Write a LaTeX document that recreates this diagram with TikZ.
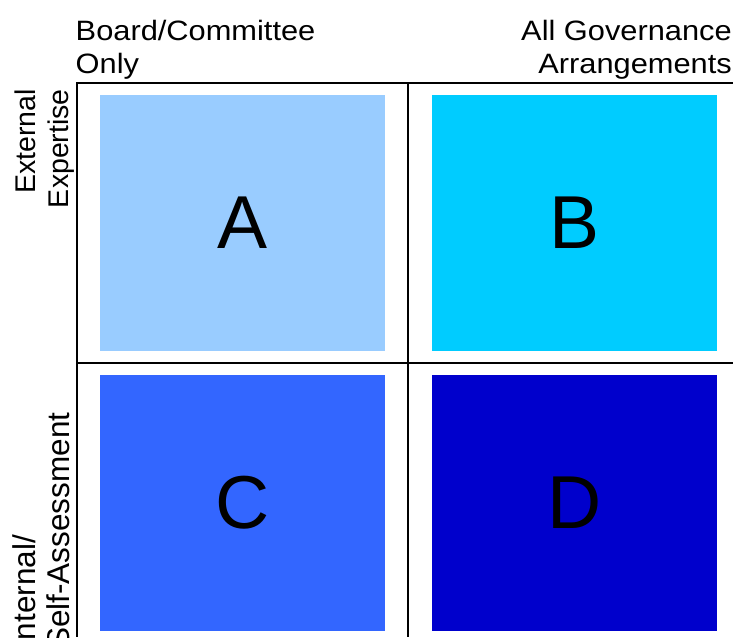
\documentclass[tikz,border=0pt]{standalone}
\usepackage{fontspec}
\setmainfont{Liberation Sans}
\definecolor{cA}{HTML}{99CCFF}
\definecolor{cB}{HTML}{00CCFF}
\definecolor{cC}{HTML}{3366FF}
\definecolor{cD}{HTML}{0000CC}
\begin{document}
\begin{tikzpicture}[x=1pt,y=-1pt,
  gridline/.style={line width=2pt, black},
  cell/.style={minimum width=285pt, minimum height=256pt, inner sep=0pt, draw=none, font=\fontsize{75}{80}\selectfont},
  toplabel/.style={inner sep=0pt, font=\fontsize{28}{33}\selectfont, xscale=1.1},
  sidelabel/.style={inner sep=0pt, rotate=90}]
\useasboundingbox (0,0) rectangle (733,637);
% grid
\coordinate (tl) at (76,83);
\coordinate (tr) at (733,83);
\coordinate (lb) at (77,637);
\coordinate (lt) at (77,82);
\coordinate (mt) at (408,83);
\coordinate (mb) at (408,637);
\coordinate (ml) at (76,363);
\coordinate (mr) at (733,363);
\draw[gridline] (tl) -- (tr);
\draw[gridline] (lt) -- (lb);
\draw[gridline] (mt) -- (mb);
\draw[gridline] (ml) -- (mr);
% cells
\node[cell, fill=cA] (A) at (242.5,223) {A};
\node[cell, fill=cB] (B) at (574.5,223) {B};
\node[cell, fill=cC] (C) at (242.5,503) {C};
\node[cell, fill=cD] (D) at (574.5,503) {D};
% top labels
\node[toplabel, anchor=base west, align=left] (h1) at (75.5,73.7) {Board/Committee\\Only};
\node[toplabel, anchor=base east, align=right] (h2) at (732,73.7) {All Governance\\Arrangements};
% side labels
\node[sidelabel, anchor=south east, align=right, font=\fontsize{28.5}{33}\selectfont] (s1) at (75,89) {External\\Expertise};
\node[sidelabel, anchor=south west, align=left, font=\fontsize{31.5}{34}\selectfont] (s2) at (70,649) {Internal/\\Self-Assessment};
\end{tikzpicture}
\end{document}
